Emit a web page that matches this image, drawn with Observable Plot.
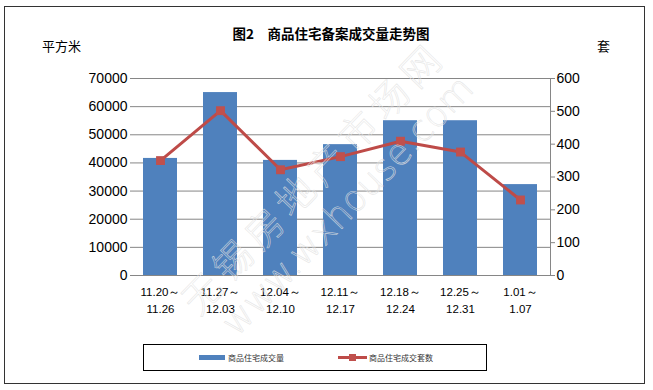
<!DOCTYPE html>
<html><head><meta charset="utf-8">
<script src="https://cdn.jsdelivr.net/npm/d3@7"></script>
<script src="https://cdn.jsdelivr.net/npm/@observablehq/plot@0.6"></script>
<style>
body{margin:0;background:#fff;}
#wrap{position:relative;width:653px;height:390px;overflow:hidden;font-family:"Noto Sans CJK SC",sans-serif;}
#wrap svg.plot{position:absolute;left:0;top:0;}
.abs{position:absolute;white-space:nowrap;}
#border{left:4px;top:6px;width:641px;height:378px;border:1px solid #333;box-sizing:border-box;}
#title{left:331px;top:33px;transform:translate(-50%,-50%);font-size:13.5px;font-weight:bold;color:#000;}
.unit{top:45px;transform:translateY(-50%);font-size:13px;color:#000;}
#legend{left:143px;top:344px;width:344px;height:27px;border:1px solid #000;box-sizing:border-box;}
.ltext{font-size:8px;color:#333;top:357px;transform:translateY(-50%);}
#wm{position:absolute;left:0;top:0;pointer-events:none;}
</style></head><body><div id="wrap">
<div class="abs" id="border"></div>
</div>
<script>
const periods = ["11.20～\n11.26","11.27～\n12.03","12.04～\n12.10","12.11～\n12.17","12.18～\n12.24","12.25～\n12.31","1.01～\n1.07"];
const area = [41600, 65000, 40900, 46500, 55000, 55000, 32300];
const units = [350, 502, 322, 362, 409, 376, 230];
const leftTicks = [0, 10000, 20000, 30000, 40000, 50000, 60000, 70000];
const rightTicks = [0, 100, 200, 300, 400, 500, 600];
const seriesNames = ["商品住宅成交量", "商品住宅成交套数"];
const titleText = "图2　商品住宅备案成交量走势图";
const leftUnit = "平方米", rightUnit = "套";

const k = 70000 / 600;
const grey = "#868686";
const chart = Plot.plot({
  width: 653, height: 390,
  marginLeft: 130, marginRight: 103, marginTop: 78, marginBottom: 115,
  style: {background: "transparent", fontFamily: "'Liberation Sans', sans-serif", fontSize: "14px", color: "#000", overflow: "visible"},
  x: {domain: periods, paddingInner: 0.43, paddingOuter: 0.215},
  y: {domain: [0, 70000]},
  marks: [
    Plot.gridY(leftTicks, {stroke: grey, strokeOpacity: 1}),
    Plot.barY(periods, {x: d => d, y: (d, i) => area[i], fill: "#4f81bd"}),
    Plot.ruleY([0], {stroke: grey}),
    Plot.axisY(leftTicks, {anchor: "left", tickSize: 0, tickPadding: 3, fontSize: 14, fill: "#000", tickFormat: d => String(d), label: null}),
    Plot.axisY(rightTicks.map(v => v * k), {anchor: "right", tickSize: 4, tickPadding: 2, stroke: grey, fill: "#000", fontSize: 14, tickFormat: d => String(Math.round(d / k)), label: null}),
    Plot.frame({anchor: "right", stroke: grey}),
    Plot.axisX({tickSize: 0, tickPadding: 9, lineHeight: 1.45, fontSize: 11.5, fill: "#000", label: null, fontFamily: "'Liberation Sans', sans-serif"}),
    Plot.line(periods, {x: d => d, y: (d, i) => units[i] * k, stroke: "#be4b48", strokeWidth: 3}),
    Plot.dot(periods, {x: d => d, y: (d, i) => units[i] * k, symbol: "square", r: 5, fill: "#c0504d", stroke: "none"})
  ]
});
const wrap = document.getElementById("wrap");
wrap.appendChild(chart);

function addDiv(cls, id, text, style) {
  const d = document.createElement("div");
  d.className = "abs " + (cls || "");
  if (id) d.id = id;
  if (text) d.textContent = text;
  if (style) Object.assign(d.style, style);
  wrap.appendChild(d);
  return d;
}
addDiv("", "title", titleText);
addDiv("unit", null, leftUnit, {left: "42px"});
addDiv("unit", null, rightUnit, {left: "597px"});
addDiv("", "legend");
addDiv("", null, null, {left: "199px", top: "355px", width: "26px", height: "5px", background: "#4f81bd"});
addDiv("ltext", null, seriesNames[0], {left: "228px"});
addDiv("", null, null, {left: "338px", top: "356px", width: "29px", height: "3px", background: "#be4b48"});
addDiv("", null, null, {left: "349px", top: "354px", width: "7px", height: "7px", background: "#c0504d"});
addDiv("ltext", null, seriesNames[1], {left: "369px"});

// watermark
const ns = "http://www.w3.org/2000/svg";
const wm = document.createElementNS(ns, "svg");
wm.setAttribute("id", "wm"); wm.setAttribute("width", 653); wm.setAttribute("height", 390);
function wmText(str, x, y, size, family, ls) {
  const t = document.createElementNS(ns, "text");
  t.setAttribute("x", 0); t.setAttribute("y", 0);
  t.setAttribute("transform", `translate(${x},${y}) rotate(-46)`);
  t.setAttribute("text-anchor", "middle");
  t.setAttribute("dominant-baseline", "middle");
  t.setAttribute("font-size", size);
  t.setAttribute("font-family", family);
  t.setAttribute("font-weight", "300");
  t.setAttribute("letter-spacing", ls);
  t.setAttribute("fill", "none");
  t.setAttribute("stroke", "#e2e2e2");
  t.setAttribute("stroke-opacity", "0.85");
  t.setAttribute("stroke-width", "0.6");
  t.textContent = str;
  wm.appendChild(t);
}
wmText("无锡房地产市场网", 316, 180, 38, "'Noto Sans CJK SC'", 7);
wmText("www.wxhouse.com", 349, 207, 36, "'DejaVu Sans'", 0);
wrap.appendChild(wm);
</script></body></html>
